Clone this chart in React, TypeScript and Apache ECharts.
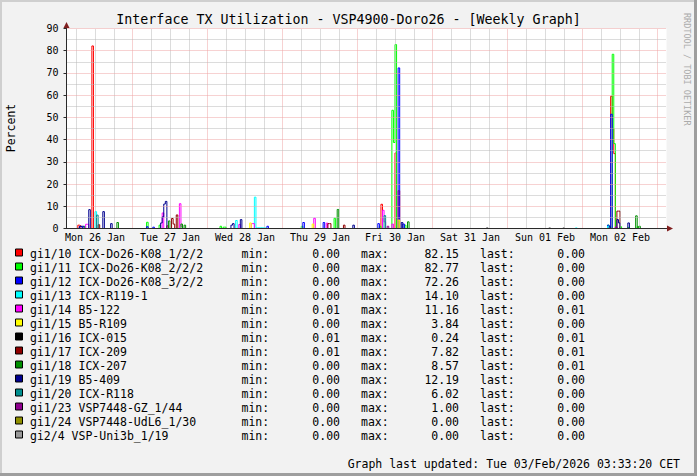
import React, { useEffect, useRef } from 'react';
import * as echarts from 'echarts';

// ---------- data (hours since Mon 26 Jan 2026 00:00, 30-minute samples, percent) ----------
const TITLE = 'Interface TX Utilization - VSP4900-Doro26 - [Weekly Graph]';
const Y_LABEL = 'Percent';
const FOOTER = 'Graph last updated: Tue 03/Feb/2026 03:33:20 CET';
const WATERMARK = 'RRDTOOL / TOBI OETIKER';

const X_MIN = 2.875;
const X_MAX = 194.875;
const SAMPLE_STEP = 0.5;

const DAY_LABELS = ['Mon 26 Jan', 'Tue 27 Jan', 'Wed 28 Jan', 'Thu 29 Jan', 'Fri 30 Jan', 'Sat 31 Jan', 'Sun 01 Feb', 'Mon 02 Feb'];
const DAY_LABEL_HOURS = [12, 36, 60, 84, 108, 132, 156, 180];
const MIDNIGHT_HOURS = [24, 48, 72, 96, 120, 144, 168, 192];
const MINOR_GRID_HOURS = [6, 12, 18, 30, 36, 42, 54, 60, 66, 78, 84, 90, 102, 108, 114, 126, 132, 138, 150, 156, 162, 174, 180, 186];
const Y_MIN = 0;
const Y_MAX = 90;
const Y_STEP = 10;

const NAMES = [
  'gi1/10 ICX-Do26-K08_1/2/2',
  'gi1/11 ICX-Do26-K08_2/2/2',
  'gi1/12 ICX-Do26-K08_3/2/2',
  'gi1/13 ICX-R119-1',
  'gi1/14 B5-122',
  'gi1/15 B5-R109',
  'gi1/16 ICX-015',
  'gi1/17 ICX-209',
  'gi1/18 ICX-207',
  'gi1/19 B5-409',
  'gi1/20 ICX-R118',
  'gi1/23 VSP7448-GZ_1/44',
  'gi1/24 VSP7448-UdL6_1/30',
  'gi2/4 VSP-Uni3b_1/19',
];
const COLORS = ['#FF0000', '#00FF00', '#0000FF', '#00FFFF', '#FF00FF', '#FFFF00', '#000000', '#8F0000', '#008F00', '#00008F', '#008F8F', '#8F008F', '#8F8F00', '#999999'];
const MIN_VALUES = ['0.00', '0.00', '0.00', '0.00', '0.01', '0.00', '0.01', '0.01', '0.00', '0.00', '0.00', '0.00', '0.00', '0.00'];
const MAX_VALUES = ['82.15', '82.77', '72.26', '14.10', '11.16', '3.84', '0.24', '7.82', '8.57', '12.19', '6.02', '1.00', '0.00', '0.00'];
const LAST_VALUES = ['0.00', '0.00', '0.00', '0.00', '0.01', '0.00', '0.01', '0.01', '0.01', '0.00', '0.00', '0.00', '0.00', '0.00'];

// non-zero samples: [hour, percent]
const gi1_10 = [[6.5, 1.5], [7, 1.2], [11, 82.15], [35, 1.2], [103.5, 10.9], [108, 34], [109, 17], [177, 59.5], [177.5, 45], [178, 33.7]];
const gi1_11 = [[8.5, 1.0], [28.5, 2.8], [32.5, 1.5], [52, 1.0], [53, 0.6], [53.5, 0.6], [78, 1.0], [88.5, 4.6], [103, 1.0], [107, 53.2], [107.5, 38.7], [108, 82.77], [111, 1.5], [176, 1.5], [176.5, 1.0], [177.5, 78.4], [178, 38.2], [180, 0.8], [182.5, 0.5], [185.5, 0.8]];
const gi1_12 = [[7, 0.8], [7.5, 0.8], [28.5, 0.8], [30.5, 0.6], [67, 1.0], [78.5, 2.7], [85, 2.7], [102.5, 2.2], [109, 72.26], [110.5, 2.0], [176, 1.5], [176.5, 0.8], [177, 51.4]];
const gi1_13 = [[12, 7.6], [57, 3.6], [63, 14.1], [63.5, 0.3], [64, 0.3], [64.5, 0.3], [65, 0.3], [65.5, 0.3], [66, 0.3], [165.5, 0.3], [176, 1.0]];
const gi1_14 = [[9, 1.9], [9.5, 1.9], [33.5, 7.0], [39, 11.16], [39.5, 1.0], [58, 1.8], [62, 2.2], [62.5, 2.2], [82, 4.6], [86, 2.4], [104, 8.2], [104.5, 3.0], [107, 2.0], [178.5, 0.5]];
const gi1_15 = [[61.5, 2.5], [81.5, 2.0], [109, 3.84]];
const gi1_16 = [[137, 0.24], [157, 0.2], [161.5, 0.2]];
const gi1_17 = [[13, 1.7], [36.5, 4.5], [37, 2.0], [38, 6.1], [86.5, 2.2], [87, 2.2], [91.5, 1.5], [179, 7.82], [179.5, 7.82]];
const gi1_18 = [[19, 2.7], [35.5, 3.4], [39.5, 2.0], [40.5, 1.5], [89.5, 8.57], [112, 3.0], [185, 5.7], [186, 1.0]];
const gi1_19 = [[7, 1.0], [7.5, 1.0], [8, 1.0], [10, 8.5], [14.5, 7.6], [17, 2.2], [33, 2.5], [33.5, 5.2], [34, 11.0], [34.5, 12.19], [55.5, 1.5], [56, 2.2], [58.5, 4.0], [94.5, 1.5], [110, 2.7], [176.5, 0.8], [179, 4.0], [179.5, 2.5], [182.5, 2.5]];
const gi1_20 = [[12.5, 6.02], [104.5, 5.8]];
const gi1_23 = [[105.5, 1.0], [178.5, 0.6]];
const gi1_24: number[][] = [];
const gi2_4: number[][] = [];

const SAMPLES = [gi1_10, gi1_11, gi1_12, gi1_13, gi1_14, gi1_15, gi1_16, gi1_17, gi1_18, gi1_19, gi1_20, gi1_23, gi1_24, gi2_4];

// ---------- styling ----------
const MONO = '"DejaVu Sans Mono", monospace';
const BACK = '#F2F2F2';
const AXIS_COLOR = '#2a2a2a';
const ARROW_COLOR = '#801F1F';
const GRID_COLOR = '#b8b8b8';
const MGRID_COLOR = '#EFA5A5';

function buildSeries(samples: number[][]): number[][] {
  const m = new Map<number, number>();
  samples.forEach(([h, v]) => m.set(h, v));
  const out: number[][] = [];
  const first = Math.floor(X_MIN / SAMPLE_STEP) * SAMPLE_STEP;
  for (let h = first; h <= X_MAX + SAMPLE_STEP; h += SAMPLE_STEP) {
    out.push([h, m.has(h) ? (m.get(h) as number) : 0]);
  }
  return out;
}

function txt(x: number, y: number, text: string, align: string, size = 11.5, extra: any = {}) {
  return {
    type: 'text',
    x,
    y,
    silent: true,
    ...extra,
    style: {
      text,
      fill: extra.fill || '#000',
      fontSize: size,
      fontFamily: MONO,
      align,
      verticalAlign: 'middle',
      textAlign: align,
      textVerticalAlign: 'middle',
    },
  };
}

function buildOption() {
  const dataSeries = SAMPLES.map((s, i) => ({
    name: NAMES[i],
    type: 'line',
    xAxisIndex: 0,
    yAxisIndex: 0,
    data: buildSeries(s),
    step: 'end',
    symbol: 'none',
    showSymbol: false,
    clip: true,
    silent: true,
    z: 2,
    lineStyle: { color: COLORS[i], width: 1 },
    itemStyle: { color: COLORS[i] },
    emphasis: { disabled: true },
  }));

  const vGrid = [
    ...MINOR_GRID_HOURS.map((h) => ({ xAxis: h, lineStyle: { color: GRID_COLOR, type: [1, 1], width: 1 } })),
    ...MIDNIGHT_HOURS.map((h) => ({ xAxis: h, lineStyle: { color: MGRID_COLOR, type: [1, 1], width: 1 } })),
  ];

  const gridSeries = {
    type: 'line',
    xAxisIndex: 0,
    yAxisIndex: 0,
    data: [[X_MIN, 0], [X_MAX, 0]],
    symbol: 'none',
    silent: true,
    lineStyle: { opacity: 0 },
    markLine: {
      silent: true,
      symbol: ['none', 'none'],
      label: { show: false },
      animation: false,
      lineStyle: { width: 1, type: [1, 1] },
      emphasis: { disabled: true },
      data: vGrid,
    },
  };

  const graphic: any[] = [];
  // frame shading
  graphic.push({ type: 'rect', shape: { x: 0, y: 0, width: 697, height: 2 }, style: { fill: '#CFCFCF' }, silent: true });
  graphic.push({ type: 'rect', shape: { x: 0, y: 0, width: 2, height: 476 }, style: { fill: '#CFCFCF' }, silent: true });
  graphic.push({ type: 'rect', shape: { x: 0, y: 473, width: 697, height: 3 }, style: { fill: '#9E9E9E' }, silent: true });
  graphic.push({ type: 'rect', shape: { x: 694, y: 0, width: 3, height: 476 }, style: { fill: '#9E9E9E' }, silent: true });

  graphic.push(txt(348.5, 19.5, TITLE, 'center', 13.3));
  graphic.push(txt(10.5, 128, Y_LABEL, 'center', 11.5, { rotation: Math.PI / 2 }));
  graphic.push(txt(687, 13, WATERMARK, 'left', 8.5, { rotation: -Math.PI / 2, fill: '#ABABAB' }));

  NAMES.forEach((name, i) => {
    const y = 253.5 + 14 * i;
    graphic.push({
      type: 'rect',
      silent: true,
      shape: { x: 15.5, y: y - 4.5, width: 7, height: 7 },
      style: { fill: COLORS[i], stroke: '#000', lineWidth: 1 },
    });
    graphic.push(txt(30, y, name, 'left'));
    graphic.push(txt(241.5, y, 'min:', 'left'));
    graphic.push(txt(340, y, MIN_VALUES[i], 'right'));
    graphic.push(txt(361, y, 'max:', 'left'));
    graphic.push(txt(459, y, MAX_VALUES[i], 'right'));
    graphic.push(txt(480, y, 'last:', 'left'));
    graphic.push(txt(585, y, LAST_VALUES[i], 'right'));
  });
  graphic.push(txt(680, 463.5, FOOTER, 'right'));

  return {
    animation: false,
    backgroundColor: BACK,
    tooltip: { show: false },
    grid: { left: 66.5, top: 28.5, width: 600, height: 200, show: true, backgroundColor: '#FFFFFF', borderWidth: 0, containLabel: false },
    xAxis: [
      {
        type: 'value',
        min: X_MIN,
        max: X_MAX,
        position: 'bottom',
        z: 10,
        axisLine: { show: true, onZero: false, lineStyle: { color: AXIS_COLOR, width: 1 } },
        axisTick: { show: false, customValues: DAY_LABEL_HOURS },
        axisLabel: {
          show: true,
          customValues: DAY_LABEL_HOURS,
          formatter: (v: number) => {
            const k = DAY_LABEL_HOURS.indexOf(Math.round(v));
            return k >= 0 ? DAY_LABELS[k] : '';
          },
          margin: 4,
          color: '#000',
          fontSize: 10,
          fontFamily: MONO,
        },
        splitLine: { show: false },
      },
      {
        type: 'value',
        min: X_MIN,
        max: X_MAX,
        position: 'bottom',
        z: 9,
        axisLine: {
          show: true,
          onZero: false,
          symbol: ['none', 'triangle'],
          symbolSize: [6, 6],
          symbolOffset: [0, 3.5],
          lineStyle: { color: ARROW_COLOR, width: 1 },
        },
        axisTick: { show: false },
        axisLabel: { show: false },
        splitLine: { show: false },
      },
    ],
    yAxis: [
      {
        type: 'value',
        min: Y_MIN,
        max: Y_MAX,
        interval: Y_STEP,
        position: 'left',
        z: 10,
        axisLine: { show: true, onZero: false, lineStyle: { color: AXIS_COLOR, width: 1 } },
        axisTick: { show: true, length: 3, lineStyle: { color: AXIS_COLOR } },
        axisLabel: { margin: 8, color: '#000', fontSize: 10, fontFamily: MONO },
        splitLine: { show: true, lineStyle: { color: MGRID_COLOR, type: [1, 1], width: 1 } },
        minorTick: { show: false, splitNumber: 2 },
        minorSplitLine: { show: true, lineStyle: { color: GRID_COLOR, type: [1, 1], width: 1 } },
      },
      {
        type: 'value',
        min: Y_MIN,
        max: Y_MAX,
        interval: Y_STEP,
        position: 'left',
        z: 9,
        axisLine: {
          show: true,
          onZero: false,
          symbol: ['none', 'triangle'],
          symbolSize: [6, 6],
          symbolOffset: [0, 3.5],
          lineStyle: { color: ARROW_COLOR, width: 1 },
        },
        axisTick: { show: false },
        axisLabel: { show: false },
        splitLine: { show: false },
      },
    ],
    series: [...dataSeries, gridSeries],
    graphic,
  };
}

export default function App() {
  const ref = useRef<HTMLDivElement>(null);
  useEffect(() => {
    document.body.style.margin = '0';
    const chart = echarts.init(ref.current as HTMLDivElement, null, { renderer: 'svg', width: 697, height: 476 });
    chart.setOption(buildOption() as any);
    return () => chart.dispose();
  }, []);
  return <div ref={ref} style={{ width: 697, height: 476 }} />;
}
